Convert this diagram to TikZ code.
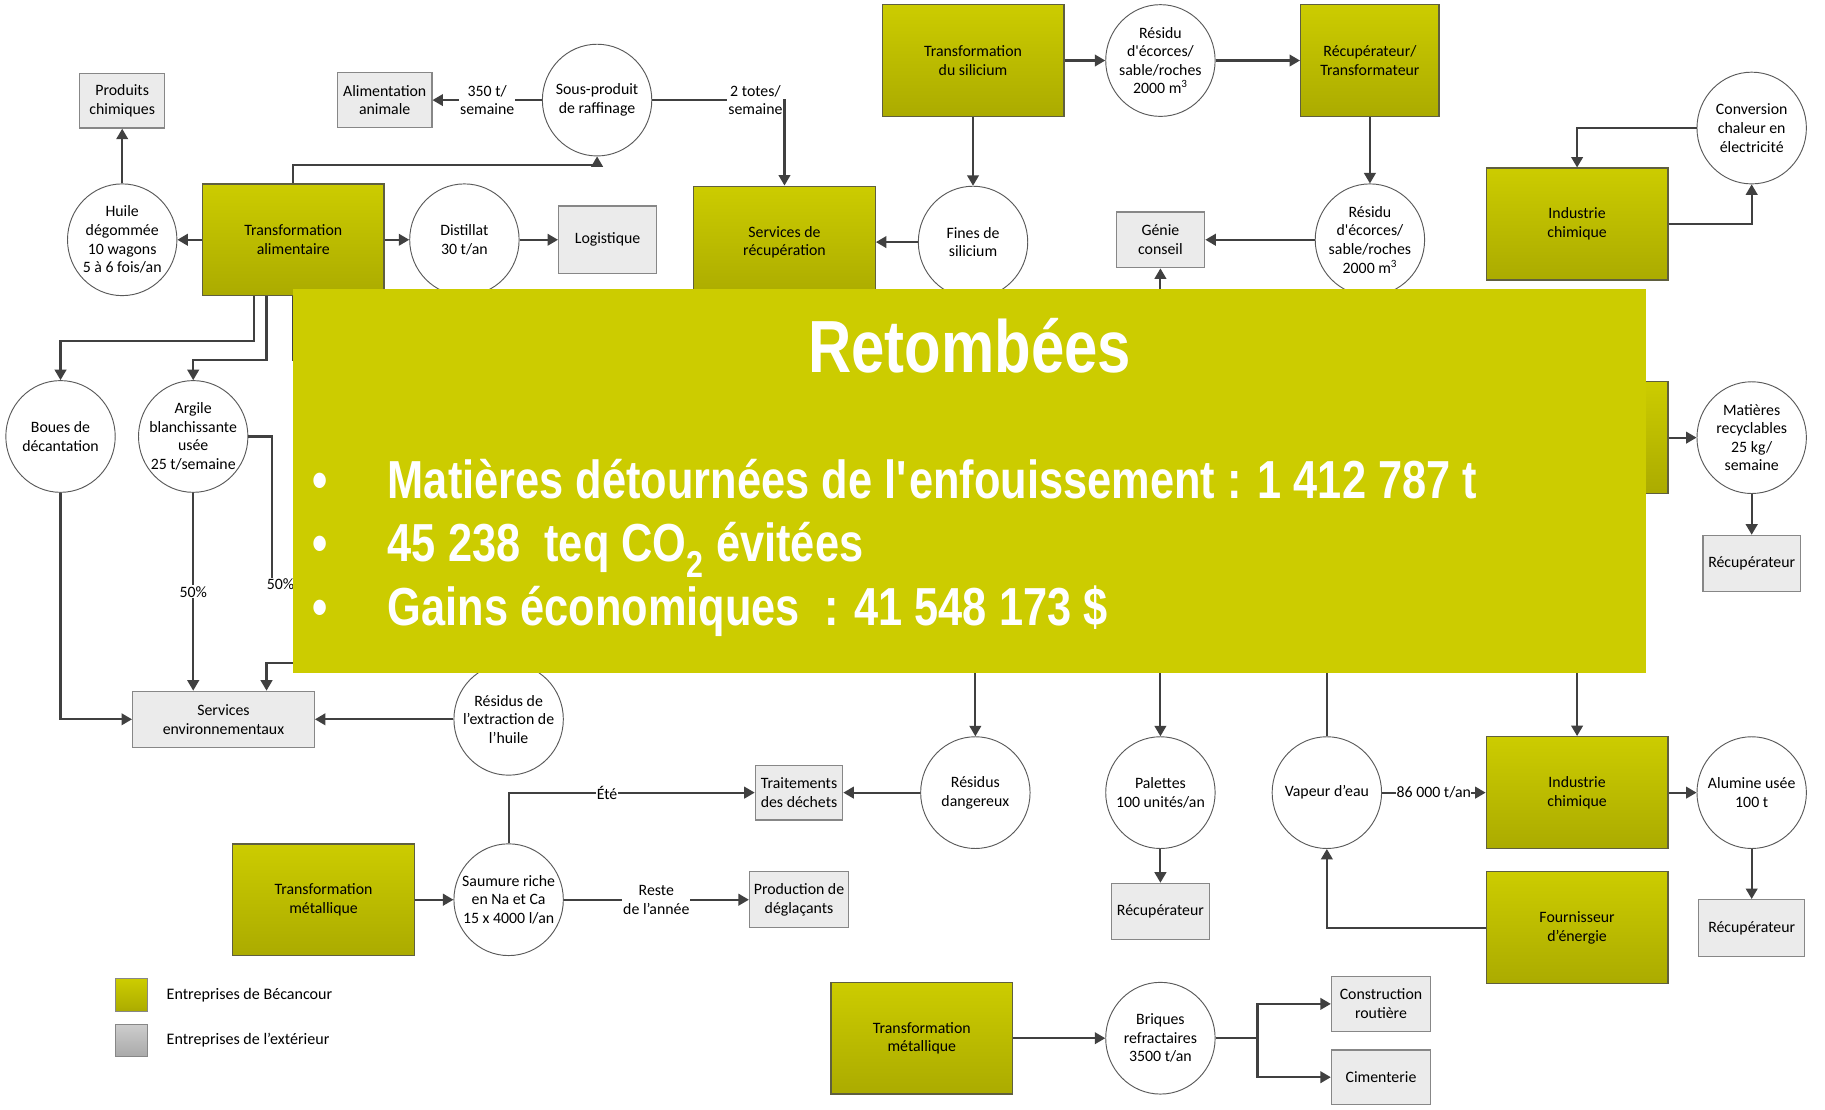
\documentclass[tikz,border=0pt]{standalone}
\usepackage{fontspec}
\setmainfont{Carlito}
\newfontfamily\bannerfont[FakeStretch=0.81]{Liberation Sans}
\usetikzlibrary{arrows.meta,shapes.geometric}

\definecolor{olivetop}{HTML}{CCCC00}
\definecolor{olivebot}{HTML}{ABAB00}
\definecolor{banner}{HTML}{CCCC00}
\definecolor{boxedge}{HTML}{5F5F3F}
\definecolor{grayfill}{HTML}{EBEBEB}
\definecolor{grayedge}{HTML}{878787}
\definecolor{keytop}{HTML}{CDCDCD}
\definecolor{keybot}{HTML}{A9A9A9}
\definecolor{circedge}{HTML}{5A5A5A}
\definecolor{wire}{HTML}{404040}

\newcommand\lbl{\fontsize{13.6}{16}\selectfont}
\newcommand\keytxt{\fontsize{13.8}{16}\selectfont}
\newcommand\headtxt{\bannerfont\bfseries\fontsize{63.5}{70}\selectfont}
\newcommand\bigtxt{\bannerfont\bfseries\fontsize{46}{54}\selectfont}

\begin{document}
\begin{tikzpicture}[x=1pt,y=-1pt,
  becbox/.style={rectangle, draw=boxedge, line width=1.2pt, top color=olivetop,
    bottom color=olivebot, minimum width=156pt, minimum height=96pt,
    inner sep=0pt, align=center, font=\lbl},
  extbox/.style={rectangle, draw=grayedge, line width=1.2pt, fill=grayfill,
    inner sep=0pt, align=center, font=\lbl},
  flow/.style={ellipse, draw=circedge, line width=0.8pt, fill=white,
    minimum width=94pt, minimum height=96pt, inner xsep=-14pt, inner ysep=-12pt,
    align=center, font=\lbl},
  link/.style={draw=wire, line width=1.8pt, -{Triangle[length=9pt,width=10pt]}},
  tag/.style={fill=white, inner sep=0.8pt, align=center, font=\lbl},
  plate/.style={text=white, inner sep=0pt}
]
\useasboundingbox (0,0) rectangle (1568,953);
\fill[white] (0,0) rectangle (1568,953);

% Bécancour companies
\node[becbox] (ta) at (252,206) {Transformation\\alimentaire};
\node[becbox] (ts) at (836,52) {Transformation\\du silicium};
\node[becbox, minimum width=119pt] (rt) at (1177,52) {Récupérateur/\\Transformateur};
\node[becbox] (sr) at (674,208) {Services de\\récupération};
\node[becbox] (ic1) at (1355,192.5) {Industrie\\chimique};
\node[becbox] (ichid) at (1355,376) {};
\node[becbox] (tm1) at (278,773) {Transformation\\métallique};
\node[becbox] (ic2) at (1355,681) {Industrie\\chimique};
\node[becbox] (fe) at (1355,797) {Fournisseur\\d’énergie};
\node[becbox] (tm2) at (792,892) {Transformation\\métallique};

% Flows
\node[flow] (huile) at (105,206) {Huile\\dégommée\\10 wagons\\5 à 6 fois/an};
\node[flow] (sousp) at (513,86) {Sous-produit\\de raffinage};
\node[flow] (dist) at (399,206) {Distillat\\30 t/an};
\node[flow] (res1) at (997,52) {Résidu\\d\textquotesingle écorces/\\sable/roches\\2000 m\textsuperscript{3}};
\node[flow] (fines) at (836,208) {Fines de\\silicium};
\node[flow] (res2) at (1177,206) {Résidu\\d\textquotesingle écorces/\\sable/roches\\2000 m\textsuperscript{3}};
\node[flow] (conv) at (1505,110) {Conversion\\chaleur en\\électricité};
\node[flow] (boues) at (52,375) {Boues de\\décantation};
\node[flow] (argile) at (166,375) {Argile\\blanchissante\\usée\\25 t/semaine};
\node[flow] (recy) at (1505,376) {Matières\\recyclables\\25 kg/\\semaine};
\node[flow] (extr) at (437,618) {Résidus de\\l’extraction de\\l’huile};
\node[flow] (dang) at (838,681) {Résidus\\dangereux};
\node[flow] (pal) at (997,681) {Palettes\\100 unités/an};
\node[flow] (vap) at (1140,681) {Vapeur d’eau};
\node[flow] (alu) at (1505,681) {Alumine usée\\100 t};
\node[flow] (saum) at (437,773) {Saumure riche\\en Na et Ca\\15 x 4000 l/an};
\node[flow] (briq) at (997,892) {Briques\\refractaires\\3500 t/an};

% Outside companies
\node[extbox, minimum width=73pt, minimum height=47pt] (prod) at (105,86.5) {Produits\\chimiques};
\node[extbox, minimum width=81pt, minimum height=47pt] (alim) at (330.5,86) {Alimentation\\animale};
\node[extbox, minimum width=84pt, minimum height=58pt] (logi) at (522,206) {Logistique};
\node[extbox, minimum width=76pt, minimum height=48pt] (genie) at (997,206) {Génie\\conseil};
\node[extbox, minimum width=84pt, minimum height=48pt] (recup1) at (1505,484) {Récupérateur};
\node[extbox, minimum width=156pt, minimum height=48pt] (senv) at (192,618) {Services\\environnementaux};
\node[extbox, minimum width=75pt, minimum height=47pt] (trait) at (686.5,681) {Traitements\\des déchets};
\node[extbox, minimum width=85pt, minimum height=48pt] (degl) at (686.5,773) {Production de\\déglaçants};
\node[extbox, minimum width=84pt, minimum height=48pt] (recup2) at (997,783) {Récupérateur};
\node[extbox, minimum width=91pt, minimum height=49pt] (recup3) at (1505,797.5) {Récupérateur};
\node[extbox, minimum width=85pt, minimum height=47pt] (route) at (1186.5,862.5) {Construction\\routière};
\node[extbox, minimum width=85pt, minimum height=47pt] (cim) at (1186.5,925.5) {Cimenterie};

% Ends of links running under the summary panel
\coordinate (hidTA) at (360,309);
\coordinate (hidArg) at (330,502);
\coordinate (hidSE) at (330,570);
\coordinate (hidGen) at (997,400);
\coordinate (hidDang) at (838,450);
\coordinate (hidPal) at (997,450);
\coordinate (hidVap) at (1140,450);
\coordinate (hidIC) at (1355,450);

% Links
\draw[link] (huile.north) -- (prod.south);
\draw[link] (ta) -- (huile);
\draw[link] (ta) -- (dist);
\draw[link] (dist) -- (logi);
\draw[link] (ta.north) -- ++(0,-16) -| (sousp.south);
\draw[link] (sousp) -- node[tag] (t350) {350 t/\\semaine} (alim);
\draw[link] (sousp.east) -| node[tag, pos=0.5, anchor=east] (ttotes) {2 totes/\\semaine} (sr.north);
\draw[link] (ts) -- (res1);
\draw[link] (res1) -- (rt);
\draw[link] (ts) -- (fines);
\draw[link] (fines) -- (sr);
\draw[link] (rt) -- (res2);
\draw[link] (res2) -- (genie);
\draw[link] (hidGen) -- (genie.south);
\draw[link] (ic1.east) -| (conv.south);
\draw[link] (conv.west) -| (ic1.north);
\draw[link] (ichid) -- (recy);
\draw[link] (recy) -- (recup1);
\draw[link] ([xshift=-0.5pt]ta.south) |- (hidTA);
\draw[link] ([xshift=-34pt]ta.south) -- ++(0,38) -| (boues.north);
\draw[link] ([xshift=-23pt]ta.south) -- ++(0,55) -| (argile.north);
\draw[link] (boues.south) |- (senv.west);
\draw[link] (argile.south) -- node[tag] (p50a) {50\%} (argile.south |- senv.north);
\draw[link] (argile.east) -- ++(20,0) |- (hidArg);
\node[tag] (p50b) at (241,502) {50\%};
\draw[link] (hidSE) -| ([xshift=37pt]senv.north);
\draw[link] (extr) -- (senv);
\draw[link] (hidDang) -- (dang.north);
\draw[link] (dang) -- (trait);
\draw[link] (saum.north) |- node[tag, pos=0.7, inner sep=0.3pt] (tete) {Été} (trait.west);
\draw[link] (saum) -- node[tag] (treste) {Reste\\de l’année} (degl);
\draw[link] (tm1) -- (saum);
\draw[link] (hidPal) -- (pal.north);
\draw[link] (pal) -- (recup2);
\draw[link] (vap.north) -- (hidVap);
\draw[link] (vap) -- node[tag, inner sep=0.3pt] (t86) {86 000 t/an} (ic2);
\draw[link] (hidIC) -- (ic2.north);
\draw[link] (ic2) -- (alu);
\draw[link] (alu) -- (recup3);
\draw[link] (fe.west) -| (vap.south);
\draw[link] (tm2) -- (briq);
\draw[link] (briq.east) -- ++(36,0) |- (route.west);
\draw[link] (briq.east) -- ++(36,0) |- (cim.west);

% Summary panel
\fill[banner] (252,248) rectangle (1414,578);
\node[plate, anchor=base, font=\headtxt] (head) at (833,320) {Retombées};
\node[plate, anchor=base, font=\bigtxt] (dot1) at (275,428) {•};
\node[plate, anchor=base, font=\bigtxt] (dot2) at (275,482.5) {•};
\node[plate, anchor=base, font=\bigtxt] (dot3) at (275,537) {•};
\node[plate, anchor=base west, font=\bigtxt] (line1) at (333,428) {Matières détournées de l\textquotesingle enfouissement : 1 412 787 t};
\node[plate, anchor=base west, font=\bigtxt] (line2) at (333,482.5) {45 238\ \ teq CO\textsubscript{2} évitées};
\node[plate, anchor=base west, font=\bigtxt] (line3) at (333,537) {Gains économiques\ \ : 41 548 173 \$};

% Key
\node[rectangle, draw=grayedge, line width=1pt, top color=olivetop, bottom color=olivebot, minimum size=28pt, inner sep=0pt] (keyB) at (113,855) {};
\node[anchor=west, inner sep=0pt, font=\keytxt] (keyBt) at (143,855) {Entreprises de Bécancour};
\node[rectangle, draw=grayedge, line width=1pt, top color=keytop, bottom color=keybot, minimum size=28pt, inner sep=0pt] (keyE) at (113,894) {};
\node[anchor=west, inner sep=0pt, font=\keytxt] (keyEt) at (143,894) {Entreprises de l’extérieur};
\end{tikzpicture}
\end{document}
